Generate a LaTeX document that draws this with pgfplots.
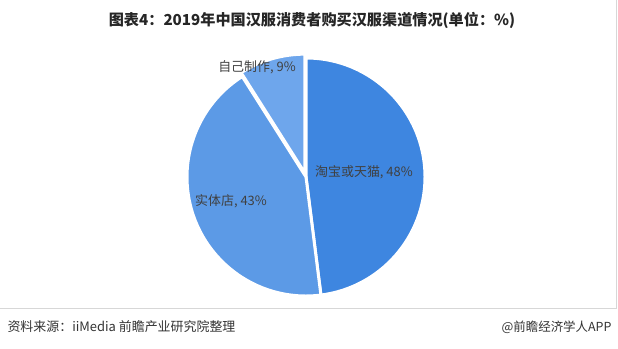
\documentclass[border=0pt]{standalone}
\usepackage{pgfplots}
\pgfplotsset{compat=1.18}
\usepackage{pgfplotstable}
\usepackage{fontspec}
\setmainfont{Noto Sans CJK SC}
\definecolor{cA}{RGB}{62,134,224}
\definecolor{cB}{RGB}{92,154,230}
\definecolor{cC}{RGB}{110,166,236}
\definecolor{txt}{RGB}{64,64,64}
\definecolor{frame}{RGB}{215,215,215}

\pgfplotstableread[col sep=comma]{
label,value
淘宝或天猫,48
实体店,43
自己制作,9
}\piedata
\pgfplotstablegetelem{0}{value}\of\piedata \global\let\vA\pgfplotsretval
\pgfplotstablegetelem{1}{value}\of\piedata \global\let\vB\pgfplotsretval
\pgfplotstablegetelem{2}{value}\of\piedata \global\let\vC\pgfplotsretval
\pgfplotstablegetelem{0}{label}\of\piedata \global\let\lA\pgfplotsretval
\pgfplotstablegetelem{1}{label}\of\piedata \global\let\lB\pgfplotsretval
\pgfplotstablegetelem{2}{label}\of\piedata \global\let\lC\pgfplotsretval
\pgfmathsetmacro{\aA}{90}
\pgfmathsetmacro{\bA}{90-3.6*\vA}
\pgfmathsetmacro{\bB}{\bA-3.6*\vB}
\pgfmathsetmacro{\bC}{\bB-3.6*\vC}
\pgfmathsetmacro{\mC}{(\bB+\bC)/2}

\begin{document}
\begin{tikzpicture}
\begin{axis}[scale only axis, width=618bp, height=349bp,
  xmin=0, xmax=618, ymin=0, ymax=349, hide axis, clip=false]
% slices
\fill[cA, draw=white, line width=3bp, line join=round] (axis cs:306,172) -- ++(\aA:119bp) arc[start angle=\aA, end angle=\bA, radius=119bp] -- cycle;
\fill[cB, draw=white, line width=3bp, line join=round] (axis cs:306,172) -- ++(\bA:119bp) arc[start angle=\bA, end angle=\bB, radius=119bp] -- cycle;
\fill[cC, draw=white, line width=3bp, line join=round, shift={(\mC:4bp)}] (axis cs:306,172) -- ++(\bB:119bp) arc[start angle=\bB, end angle=\bC, radius=119bp] -- cycle;
% labels
\node[text=txt, font=\fontsize{13}{15}\selectfont] at (axis cs:364,177) {\lA, \vA\%};
\node[text=txt, font=\fontsize{13}{15}\selectfont] at (axis cs:231,148) {\lB, \vB\%};
\node[text=txt, font=\fontsize{13}{15}\selectfont] at (axis cs:257,282) {\lC, \vC\%};
% title
\node[text=black!85, font=\bfseries\fontsize{15.2}{18}\selectfont] at (axis cs:312,329) {图表4：2019年中国汉服消费者购买汉服渠道情况(单位：\%)};
% frame
\draw[frame, line width=1bp] (axis cs:0,40) -- (axis cs:616.5,40) -- (axis cs:616.5,349);
% footer
\node[anchor=west, text=black!80, font=\fontsize{13}{15}\selectfont] at (axis cs:4,22) {资料来源：iiMedia 前瞻产业研究院整理};
\node[anchor=east, text=black!80, font=\fontsize{12.5}{14}\selectfont] at (axis cs:615,22) {@前瞻经济学人APP};
\end{axis}
\pgfresetboundingbox
\path[use as bounding box] (0,0) rectangle (618bp,349bp);
\end{tikzpicture}%
\end{document}
